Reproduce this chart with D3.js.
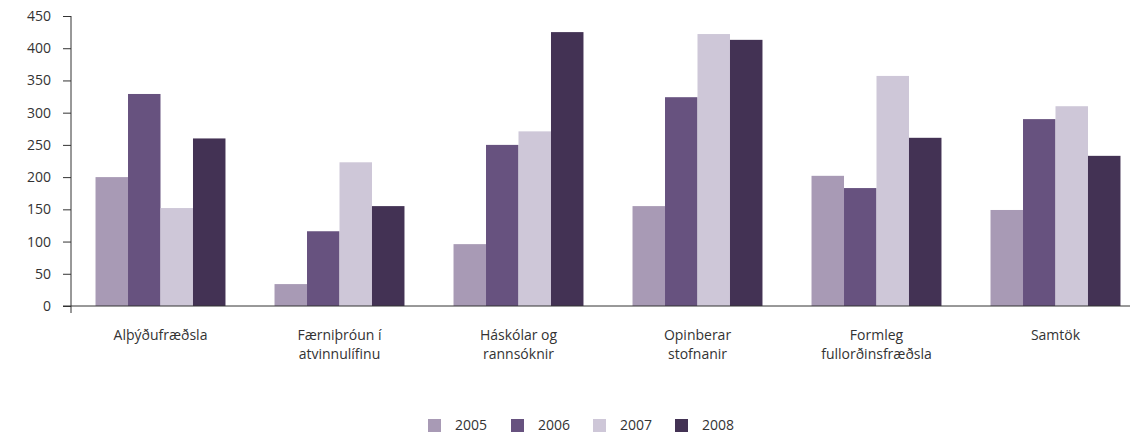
<!DOCTYPE html>
<html>
<head>
<meta charset="utf-8">
<script src="https://cdn.jsdelivr.net/npm/d3@7"></script>
<style>
  body { margin: 0; background: #fff; }
  text { font-family: "Open Sans", sans-serif; fill: #333; }
</style>
</head>
<body>
<div id="chart"></div>
<script>
// data
var categories = ["Alþýðufræðsla", "Færniþróun í\natvinnulífinu", "Háskólar og\nrannsóknir",
  "Opinberar\nstofnanir", "Formleg\nfullorðinsfræðsla", "Samtök"];
var years = ["2005", "2006", "2007", "2008"];
var v2005 = [200, 34, 96, 155, 202, 149];
var v2006 = [329, 116, 250, 324, 183, 290];
var v2007 = [152, 223, 271, 422, 357, 310];
var v2008 = [260, 155, 425, 413, 261, 233];
var yTicks = [0, 50, 100, 150, 200, 250, 300, 350, 400, 450];
var colors = ["#a89ab5", "#67527f", "#cec7d8", "#433254"];

var series = [v2005, v2006, v2007, v2008];

var svgWidth = 1130;
var svgHeight = 434;

var svg = d3.select("#chart")
  .append("svg")
  .attr("width", svgWidth)
  .attr("height", svgHeight);

// x band runs past the right edge like in the original
var x0 = d3.scaleBand()
  .domain(categories)
  .range([71, 1145])
  .paddingInner(0.274)
  .paddingOuter(0.137);

var x1 = d3.scaleBand()
  .domain(years)
  .range([0, x0.bandwidth()]);

var y = d3.scaleLinear()
  .domain([0, 450])
  .range([306, 16]);

// y axis
var yAxis = svg.append("g")
  .attr("transform", "translate(71,0)")
  .call(d3.axisLeft(y).tickValues(yTicks).tickSize(8).tickPadding(12));
yAxis.select(".domain").attr("stroke", "#333").attr("d", "M0,16V313");
yAxis.selectAll(".tick line").attr("stroke", "#333");
yAxis.selectAll(".tick text").style("font-size", "14px").attr("fill", "#333");

// bars
var groups = svg.selectAll(".grp")
  .data(categories)
  .enter()
  .append("g")
  .attr("class", "grp")
  .attr("transform", d => `translate(${x0(d)},0)`);

groups.selectAll("rect")
  .data((d, i) => years.map((yr, j) => ({ yr: yr, v: series[j][i] })))
  .enter()
  .append("rect")
  .attr("x", d => x1(d.yr))
  .attr("y", d => y(d.v))
  .attr("width", x1.bandwidth())
  .attr("height", d => y(0) - y(d.v))
  .attr("fill", (d, j) => colors[j]);

// x axis line
svg.append("line")
  .attr("x1", 63).attr("x2", svgWidth)
  .attr("y1", y(0)).attr("y2", y(0))
  .attr("stroke", "#333");

// category labels
var labels = svg.selectAll(".cat")
  .data(categories)
  .enter()
  .append("text")
  .attr("class", "cat")
  .attr("text-anchor", "middle")
  .style("font-size", "14px")
  .attr("transform", d => `translate(${x0(d) + x0.bandwidth() / 2},340)`);

labels.selectAll("tspan")
  .data(d => d.split("\n"))
  .enter()
  .append("tspan")
  .attr("x", 0)
  .attr("dy", (d, i) => i === 0 ? 0 : 19)
  .text(d => d);

// legend
var legendX = [428, 511, 593, 675];
var legend = svg.selectAll(".leg")
  .data(years)
  .enter()
  .append("g")
  .attr("class", "leg")
  .attr("transform", (d, i) => `translate(${legendX[i]},419)`);

legend.append("rect")
  .attr("width", 13)
  .attr("height", 13)
  .attr("fill", (d, i) => colors[i]);

legend.append("text")
  .attr("x", 27)
  .attr("y", 11)
  .style("font-size", "14px")
  .text(d => d);
</script>
</body>
</html>
